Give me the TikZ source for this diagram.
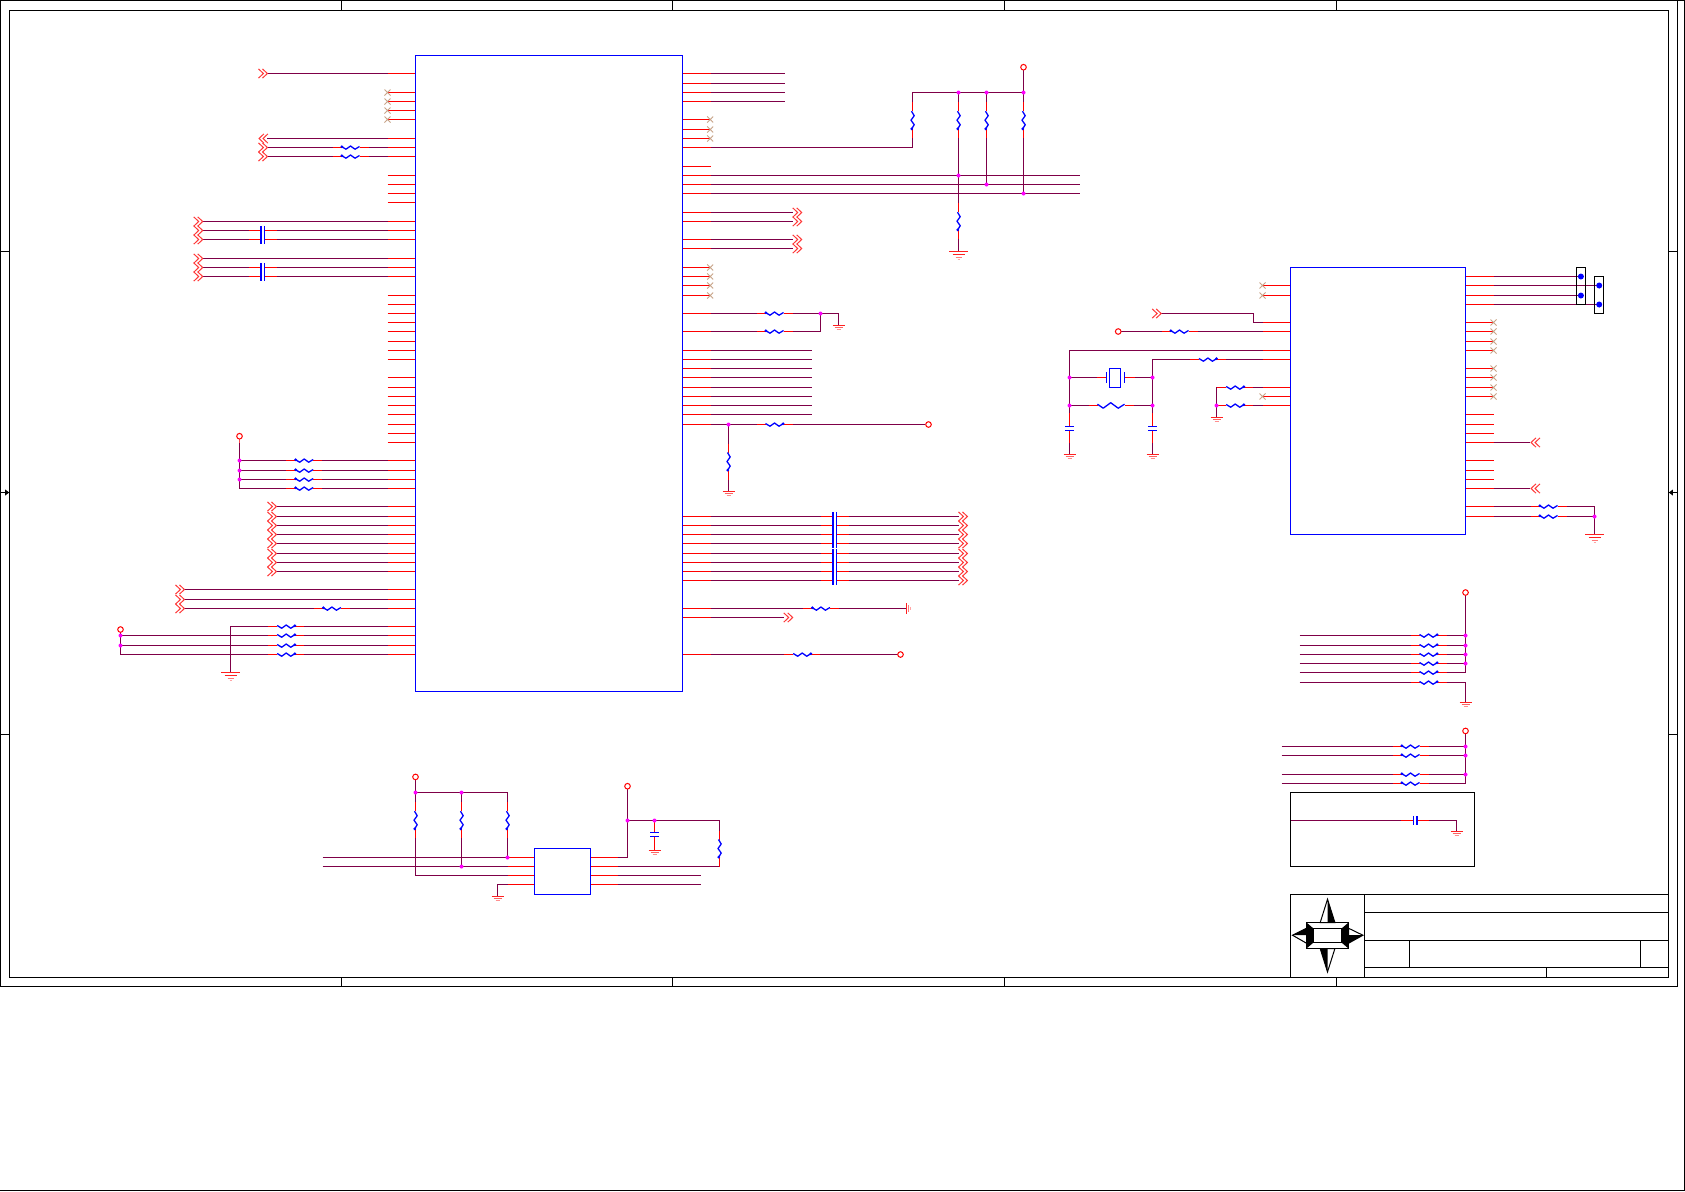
\documentclass[tikz,border=0pt]{standalone}
\definecolor{wirec}{HTML}{7F0047}
\definecolor{chevc}{HTML}{FF3838}
\definecolor{ncc}{HTML}{C8A488}
\definecolor{gndc}{HTML}{FF2020}
\definecolor{jnc}{HTML}{FF00FF}
\tikzset{
 wirel/.style={draw=wirec,line width=.5pt,line join=miter},
 pinl/.style={draw=red,line width=.5pt},
 partl/.style={draw=blue,line width=.5pt},
 framel/.style={draw=black,line width=.5pt},
 chevl/.style={draw=chevc,line width=.5pt},
 ncl/.style={draw=ncc,line width=.4pt},
 gndl/.style={draw=gndc,line width=.5pt},
 pwrl/.style={draw=red,line width=.5pt,fill=white}
}
% horizontal resistor: centre x, y, side of the dot (1 left, -1 right)
\newcommand\RH[3]{\begin{scope}[shift={(#1,#2)},xscale=#3]
 \fill[white] (-9,-3) rectangle (9,3);
 \draw[pinl] (-18,0)--(-9,0) (9,0)--(18,0);
 \draw[partl,line width=.65pt,line join=round] (-9,-1)--(-4.5,1.7)--(0,-1.5)--(4.5,1.7)--(9,-1);
 \fill[blue] (-8.6,-.8) circle (1.5);
\end{scope}}
% vertical resistor, dot at the bottom
\newcommand\RV[2]{\begin{scope}[shift={(#1,#2)}]
 \fill[white] (-3,-9) rectangle (3,9);
 \draw[pinl] (0,-18)--(0,-9) (0,9)--(0,18);
 \draw[partl,line width=.65pt,line join=round] (-1,-9)--(1.7,-4.5)--(-1.5,0)--(1.7,4.5)--(-1,9);
 \fill[blue] (-.8,8.6) circle (1.5);
\end{scope}}
% in-line capacitor
\newcommand\CH[3]{\begin{scope}[shift={(#1,#2)},xscale=#3]
 \fill[white] (-3,-1) rectangle (3,1);
 \draw[pinl] (-14,0)--(-2,0) (2,0)--(14,0);
 \draw[partl,line width=.9pt] (-1.7,-4.7)--(-1.7,4.7);
 \draw[partl] (1.6,-4.7)--(1.6,4.7);
\end{scope}}
% vertical capacitor: x, y of thin plate, y of thick plate
\newcommand\CV[3]{\draw[partl] (#1-4.5,#2)--(#1+4.5,#2); \draw[partl,line width=.9pt] (#1-4.5,#3)--(#1+4.5,#3);}
\newcommand\ChR[2]{\begin{scope}[shift={(#1,#2)}]
 \draw[chevl] (-4.7,-4.6)--(.2,0)--(-4.7,4.6) (-.7,-4.6)--(4.2,0)--(-.7,4.6);
\end{scope}}
\newcommand\ChL[2]{\begin{scope}[shift={(#1,#2)},xscale=-1]
 \draw[chevl] (-4.7,-4.6)--(.2,0)--(-4.7,4.6) (-.7,-4.6)--(4.2,0)--(-.7,4.6);
\end{scope}}
\newcommand\NC[2]{\draw[ncl] (#1-3,#2-3)--(#1+3,#2+3) (#1-3,#2+3)--(#1+3,#2-3);}
\newcommand\Jn[2]{\fill[jnc] (#1,#2) circle (2);}
\newcommand\Pwr[2]{\draw[pwrl] (#1,#2) circle (2.8);}
\newcommand\GndB[2]{\draw[gndl] (#1-9.5,#2)--(#1+9.5,#2); \draw[gndl] (#1-6,#2+3)--(#1+6,#2+3); \draw[gndl,opacity=.6] (#1-3,#2+6)--(#1+3,#2+6); \draw[gndl,opacity=.4] (#1-1,#2+8)--(#1+1,#2+8);}
\newcommand\GndS[2]{\draw[gndl] (#1-6,#2)--(#1+6,#2); \draw[gndl,opacity=.7] (#1-4,#2+2)--(#1+4,#2+2); \draw[gndl,opacity=.5] (#1-2,#2+4)--(#1+2,#2+4);}
\begin{document}
\begin{tikzpicture}[x=.5pt,y=-.5pt]
\useasboundingbox (0,0) rectangle (1685,1191);
\fill[white] (0,0) rectangle (1685,1191);
\begin{scope}[shift={(.2,.2)}]
% ---------- sheet frame
\draw[framel] (1677.3,.3) -- (1684.3,.3) -- (1684.3,1190.3) -- (.3,1190.3);
\draw[framel] (.3,.3) rectangle (1677.3,986.3);
\draw[framel] (9.3,10.3) rectangle (1668.3,977.3);
\foreach \x in {341.3,672.3,1004.3,1336.3} {\draw[framel] (\x,.3)--(\x,10.3) (\x,977.3)--(\x,986.3);}
\foreach \y in {251.3,734.3} {\draw[framel] (.3,\y)--(9.3,\y) (1668.3,\y)--(1677.3,\y);}
\draw[framel] (.3,492.3)--(9.3,492.3) (1668.3,492.3)--(1677.3,492.3);
\fill[black] (9,492.3)--(5,489.3)--(5,495.3)--cycle;
\fill[black] (1668.6,492.3)--(1672.6,489.3)--(1672.6,495.3)--cycle;
% ---------- title block
\draw[framel] (1290.3,977.3)--(1290.3,894.3)--(1668.3,894.3);
\draw[framel] (1364.3,894.3)--(1364.3,977.3);
\draw[framel] (1364.3,912.3)--(1668.3,912.3) (1364.3,940.3)--(1668.3,940.3) (1364.3,967.3)--(1668.3,967.3);
\draw[framel] (1409.3,940.3)--(1409.3,967.3) (1640.3,940.3)--(1640.3,967.3) (1546.3,967.3)--(1546.3,977.3);
% logo
\draw[framel,fill=white] (1327.3,899)--(1320,922.3)--(1334.7,922.3)--cycle;
\fill[black] (1327.3,899)--(1334.7,922.3)--(1327.3,922.3)--cycle;
\draw[framel,fill=white] (1327.3,971.7)--(1320,948.3)--(1334.7,948.3)--cycle;
\fill[black] (1327.3,971.7)--(1320,948.3)--(1327.3,948.3)--cycle;
\draw[framel,fill=white] (1292.3,935)--(1306.3,928)--(1306.3,943)--cycle;
\fill[black] (1292.3,935)--(1306.3,928)--(1306.3,935)--cycle;
\draw[framel,fill=white] (1362.7,935)--(1348.3,928)--(1348.3,943)--cycle;
\fill[black] (1362.7,935)--(1348.3,943)--(1348.3,935)--cycle;
\fill[black] (1306.3,922.3)--(1313.3,928.3)--(1313.3,942.3)--(1306.3,948.3)--cycle;
\fill[black] (1348.3,922.3)--(1341.3,928.3)--(1341.3,942.3)--(1348.3,948.3)--cycle;
\draw[framel,line width=.8pt] (1306.3,922.3) rectangle (1348.3,948.3);
\draw[framel] (1313.3,928.3) rectangle (1341.3,942.3);
% ---------- main IC, left side
\foreach \y in {73.3,92.3,101.3,110.3,119.3,138.3,147.3,156.3,175.3,184.3,193.3,202.3,221.3,230.3,239.3,258.3,267.3,276.3,295.3,304.3,313.3,322.3,331.3,341.3,350.3,359.3,377.3,387.3,396.3,405.3,414.3,424.3,433.3,442.3,460.3,470.3,479.3,488.3,506.3,516.3,525.3,534.3,543.3,553.3,562.3,571.3,589.3,599.3,608.3,626.3,635.3,645.3,654.3}
 {\draw[pinl] (387.3,\y)--(415.3,\y);}
\foreach \y in {92.3,101.3,110.3,119.3} {\NC{387.3}{\y}}
\foreach \y in {73.3,138.3,147.3,156.3} {\draw[wirel] (267,\y)--(387.3,\y);}
\ChR{263}{73.3}\ChL{263}{138.3}\ChR{263}{147.3}\ChR{263}{156.3}
\RH{350.3}{147.3}{1}\RH{350.3}{156.3}{1}
\foreach \y in {221.3,230.3,239.3,258.3,267.3,276.3} {\draw[wirel] (202.5,\y)--(387.3,\y); \ChR{198.3}{\y}}
\foreach \y in {230.3,239.3,267.3,276.3} {\CH{262.7}{\y}{1}}
% pull-ups
\draw[wirel] (239.3,443)--(239.3,488.3);
\draw[pinl,draw=red!70] (239.3,438.8)--(239.3,443);
\Pwr{239.3}{436}
\foreach \y in {460.3,470.3,479.3,488.3} {\draw[wirel] (239.3,\y)--(387.3,\y); \RH{304}{\y}{1}}
\foreach \y in {460.3,470.3,479.3} {\Jn{239.3}{\y}}
\foreach \y in {506.3,516.3,525.3,534.3,543.3,553.3,562.3,571.3} {\draw[wirel] (276.5,\y)--(387.3,\y); \ChR{272}{\y}}
\foreach \y in {589.3,599.3,608.3} {\draw[wirel] (184.5,\y)--(387.3,\y); \ChR{180}{\y}}
\RH{331.7}{608.3}{1}
\draw[wirel] (230.3,672.3)--(230.3,626.3)--(387.3,626.3);
\GndB{230.3}{672.3}
\draw[wirel] (120.3,632)--(120.3,654.3)--(387.3,654.3);
\foreach \y in {635.3,645.3} {\draw[wirel] (120.3,\y)--(387.3,\y);}
\Pwr{120.3}{629.3}
\Jn{120.3}{635.3}\Jn{120.3}{645.3}
\foreach \y in {626.3,635.3,645.3,654.3} {\RH{286}{\y}{-1}}
\draw[partl] (415.3,55.3) rectangle (682.3,691.3);
% ---------- main IC, right side
\foreach \y in {73.3,83.3,92.3,101.3,119.3,129.3,138.3,147.3,166.3,175.3,184.3,193.3,212.3,221.3,239.3,248.3,267.3,276.3,285.3,295.3,313.3,331.3,350.3,359.3,368.3,377.3,387.3,396.3,405.3,414.3,424.3,516.3,525.3,534.3,543.3,553.3,562.3,571.3,580.3,608.3,617.3,654.3}
 {\draw[pinl] (682.3,\y)--(710.3,\y);}
\foreach \y in {73.3,83.3,92.3,101.3} {\draw[wirel] (710.3,\y)--(784.3,\y);}
\foreach \y in {119.3,129.3,138.3,267.3,276.3,285.3,295.3} {\NC{710}{\y}}
\draw[wirel] (710.3,147.3)--(912.3,147.3)--(912.3,92.3)--(1023.3,92.3);
\foreach \y in {175.3,184.3,193.3} {\draw[wirel] (710.3,\y)--(1079.3,\y);}
\draw[wirel] (958.3,92.3)--(958.3,251.3);
\draw[wirel] (986.3,92.3)--(986.3,184.3);
\draw[wirel] (1023.3,70)--(1023.3,193.3);
\Pwr{1023.3}{67}
\foreach \x in {912.3,958.3,986.3,1023.3} {\RV{\x}{120}}
\RV{958.3}{221}
\GndB{958.3}{251.3}
\Jn{958.3}{92.3}\Jn{986.3}{92.3}\Jn{1023.3}{92.3}
\Jn{958.3}{175.3}\Jn{986.3}{184.3}\Jn{1023.3}{193.3}
\foreach \y in {212.3,221.3,239.3,248.3} {\draw[wirel] (710.3,\y)--(793,\y); \ChR{797.3}{\y}}
\draw[wirel] (710.3,313.3)--(838.3,313.3)--(838.3,325.3);
\draw[wirel] (710.3,331.3)--(820.3,331.3)--(820.3,313.3);
\RH{774.3}{313.3}{1}\RH{774.3}{331.3}{1}
\Jn{820.3}{313.3}\GndS{838.3}{325.3}
\foreach \y in {350.3,359.3,368.3,377.3,387.3,396.3,405.3,414.3} {\draw[wirel] (710.3,\y)--(811.3,\y);}
\draw[wirel] (710.3,424.3)--(925,424.3);
\Pwr{928.3}{424.3}
\RH{774.3}{424.3}{-1}
\draw[wirel] (728.3,424.3)--(728.3,491.3);
\RV{728.3}{461.3}
\Jn{728.3}{424.3}\GndS{728.3}{491.3}
\foreach \y in {516.3,525.3,534.3,543.3,553.3,562.3,571.3,580.3} {\draw[wirel] (710.3,\y)--(958.7,\y); \ChR{963}{\y}\CH{834.5}{\y}{1}}
\draw[wirel] (710.3,608.3)--(906.3,608.3);
\draw[gndl] (906.3,603)--(906.3,613.6);
\draw[gndl,opacity=.6] (908.3,604.8)--(908.3,611.8);
\draw[gndl,opacity=.4] (910.3,606.6)--(910.3,610);
\RH{820.7}{608.3}{1}
\draw[wirel] (710.3,617.3)--(784,617.3);\ChR{788.3}{617.3}
\draw[wirel] (710.3,654.3)--(897.5,654.3);\Pwr{900.3}{654.3}
\RH{802}{654.3}{-1}
% ---------- small IC bottom
\draw[wirel] (415.3,779.5)--(415.3,875.3)--(507.3,875.3);
\Pwr{415.3}{776.7}
\draw[wirel] (415.3,792.3)--(507.3,792.3)--(507.3,857.3);
\draw[wirel] (461.3,792.3)--(461.3,866.3);
\draw[wirel] (322.3,857.3)--(507.3,857.3);
\draw[wirel] (322.3,866.3)--(507.3,866.3);
\foreach \x in {415.3,461.3,507.3} {\RV{\x}{820}}
\draw[wirel] (497.3,896.3)--(497.3,884.3)--(507.3,884.3);
\GndS{497.3}{896.3}
\foreach \y in {857.3,866.3,875.3,884.3} {\draw[pinl] (507.3,\y)--(534.3,\y); \draw[pinl] (590.3,\y)--(617.3,\y);}
\Jn{415.3}{792.3}\Jn{461.3}{792.3}\Jn{507.3}{857.3}\Jn{461.3}{866.3}
\draw[partl] (534.3,848.3) rectangle (590.3,894.3);
\draw[wirel] (617.3,857.3)--(627.3,857.3)--(627.3,789);
\Pwr{627.3}{786}
\draw[wirel] (627.3,820.3)--(719.3,820.3)--(719.3,866.3)--(617.3,866.3);
\RV{719.3}{848.3}
\draw[wirel] (617.3,875.3)--(700.7,875.3) (617.3,884.3)--(700.7,884.3);
\draw[pinl] (654.3,820.3)--(654.3,832.3) (654.3,836.3)--(654.3,850.3);
\CV{654.3}{836.3}{832.3}
\GndS{654.3}{850.3}
\Jn{627.3}{820.3}\Jn{654.3}{820.3}
% ---------- right IC, left side
\foreach \y in {285.3,295.3,322.3,331.3,350.3,359.3,387.3,396.3,405.3} {\draw[pinl] (1262.3,\y)--(1290.3,\y);}
\NC{1262.3}{285.3}\NC{1262.3}{295.3}\NC{1262.3}{396.3}
\draw[wirel] (1161,313.3)--(1253.3,313.3)--(1253.3,322.3)--(1262.3,322.3);
\ChR{1156.7}{313.3}
\draw[wirel] (1120.8,331.3)--(1262.3,331.3);
\Pwr{1118}{331.3}
\RH{1179.3}{331.3}{1}
\draw[wirel] (1262.3,350.3)--(1069.3,350.3)--(1069.3,454.3);
\draw[wirel] (1262.3,359.3)--(1152.3,359.3)--(1152.3,454.3);
\RH{1207.7}{359.3}{-1}
\draw[wirel] (1069.3,377.3)--(1096.7,377.3) (1135,377.3)--(1152.3,377.3);
\draw[pinl] (1096.7,377.3)--(1106.3,377.3) (1124.3,377.3)--(1135,377.3);
\draw[partl] (1106.3,372)--(1106.3,382.6) (1124.3,372)--(1124.3,382.6);
\draw[partl] (1109.3,368.3) rectangle (1120.3,387.3);
\draw[wirel] (1069.3,405.3)--(1088.3,405.3) (1133.3,405.3)--(1152.3,405.3);
\draw[pinl] (1088.3,405.3)--(1097.3,405.3) (1124.3,405.3)--(1133.3,405.3);
\draw[partl,line width=.65pt,line join=round] (1097.3,404)--(1103,408)--(1110.5,402.5)--(1118,408)--(1124.3,404);
\foreach \x in {1069.3,1152.3} {
 \fill[white] (\x-1,413) rectangle (\x+1,443);
 \draw[pinl] (\x,413)--(\x,426.3) (\x,430.3)--(\x,443);
 \CV{\x}{426.3}{430.3}
 \GndS{\x}{454.3}
 \Jn{\x}{377.3}\Jn{\x}{405.3}
}
\draw[wirel] (1262.3,387.3)--(1216.3,387.3)--(1216.3,417.3);
\draw[wirel] (1262.3,405.3)--(1216.3,405.3);
\RH{1235}{387.3}{-1}\RH{1235}{405.3}{-1}
\Jn{1216.3}{405.3}\GndS{1216.3}{417.3}
% ---------- right IC, right side
\foreach \y in {276.3,285.3,295.3,304.3,322.3,331.3,341.3,350.3,368.3,377.3,387.3,396.3,414.3,424.3,433.3,442.3,460.3,470.3,479.3,488.3,506.3,516.3} {\draw[pinl] (1465.3,\y)--(1493.3,\y);}
\foreach \y in {322.3,331.3,341.3,350.3,368.3,377.3,387.3,396.3} {\NC{1493.3}{\y}}
\draw[wirel] (1493.3,276.3)--(1580.7,276.3) (1493.3,295.3)--(1580.7,295.3);
\draw[wirel] (1493.3,285.3)--(1599,285.3) (1493.3,304.3)--(1599,304.3);
\draw[framel] (1576.3,267.3) rectangle (1585.3,304.3);
\draw[framel] (1594.3,276.3) rectangle (1603.3,313.3);
\foreach \x/\y in {1580.7/276.3,1580.7/295.3,1599/285.3,1599/304.3} {\fill[blue] (\x,\y) circle (3);}
\draw[wirel] (1493.3,442.3)--(1530,442.3);\ChL{1535}{442.3}
\draw[wirel] (1493.3,488.3)--(1530,488.3);\ChL{1535}{488.3}
\draw[wirel] (1493.3,506.3)--(1594.3,506.3)--(1594.3,534.3);
\draw[wirel] (1493.3,516.3)--(1594.3,516.3);
\RH{1548.3}{506.3}{1}\RH{1548.3}{516.3}{1}
\Jn{1594.3}{516.3}\GndB{1594.3}{534.3}
\draw[partl] (1290.3,267.3) rectangle (1465.3,534.3);
% ---------- lower right networks
\draw[wirel] (1465.3,595)--(1465.3,672.3);
\Pwr{1465.3}{592.3}
\foreach \y in {635.3,645.3,654.3,663.3,672.3,682.3} {\draw[wirel] (1299.3,\y)--(1465.3,\y); \RH{1428.3}{\y}{-1}}
\foreach \y in {635.3,645.3,654.3,663.3} {\Jn{1465.3}{\y}}
\draw[wirel] (1465.3,682.3)--(1465.3,702.3);
\GndS{1465.3}{702.3}
\draw[wirel] (1465.3,733.5)--(1465.3,783.3);
\Pwr{1465.3}{730.7}
\foreach \y in {746.3,755.3,774.3,783.3} {\draw[wirel] (1281.3,\y)--(1465.3,\y); \RH{1410.3}{\y}{1}}
\foreach \y in {746.3,755.3,774.3} {\Jn{1465.3}{\y}}
\draw[framel] (1290.3,792.3) rectangle (1474.3,866.3);
\draw[wirel] (1290.3,820.3)--(1456.3,820.3)--(1456.3,831.3);
\CH{1415}{820.3}{-1}
\GndS{1456.3}{831.3}
\end{scope}
\end{tikzpicture}
\end{document}
